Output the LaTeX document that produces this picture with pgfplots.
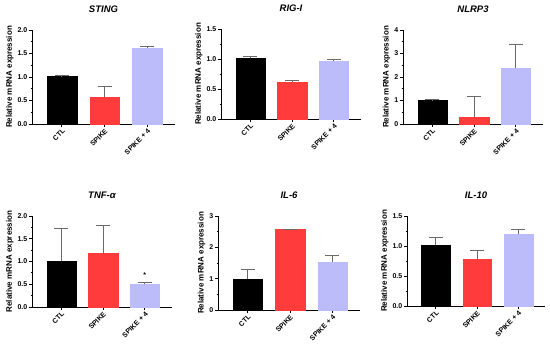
\documentclass[border=0pt]{standalone}
\usepackage{fontspec}
\setmainfont{Liberation Sans}
\usepackage{pgfplots}
\pgfplotsset{compat=1.18}

\definecolor{cred}{HTML}{FF3B3B}
\definecolor{cblue}{HTML}{BCBCFA}
\definecolor{errc}{HTML}{6A6A6A}

\pgfplotsset{
 panel/.style={
  scale only axis, anchor=south west,
  axis x line=bottom, axis y line=left,
  axis line style={-, line width=0.9pt},
  ymin=0, xmin=-0.7, xmax=2.65,
  xtick={0,1,2}, xticklabels={CTL,SPIKE,SPIKE + 4},
  x tick label style={rotate=45, anchor=north east, font=\fontsize{7}{7}\selectfont\bfseries, inner sep=0.8pt},
  y tick label style={font=\fontsize{7}{7}\selectfont\bfseries, inner sep=1.5pt},
  tick align=outside, major tick length=3pt, minor tick length=1.5pt,
  tick style={black, line width=0.8pt},
  minor y tick num=1,
  ylabel={Relative mRNA expression},
  ylabel style={font=\fontsize{8}{9}\selectfont\bfseries, yshift=-1pt},
  title style={font=\fontsize{9.5}{10}\selectfont\bfseries\itshape, at={(0.5,1)}, anchor=south, yshift=8pt},
  ybar, bar width=0.7, bar shift=0pt,
  /pgf/number format/assume math mode=true,
  clip=false,
 },
 dec/.style={yticklabel={\pgfmathprintnumber[fixed,fixed zerofill,precision=1]{\tick}}},
 eb/.style={error bars/.cd, y dir=plus, y explicit,
    error bar style={errc, line width=0.8pt, solid},
    error mark=|,
    error mark options={errc, line width=0.8pt, mark size=7pt}},
 bk/.style={fill=black, draw=black, line width=0.2pt, eb},
 rd/.style={fill=cred, draw=cred, line width=0.2pt, eb},
 bl/.style={fill=cblue, draw=cblue, line width=0.2pt, eb},
}

\begin{document}
\begin{tikzpicture}
\path[use as bounding box] (0,0) rectangle (550pt,349pt);

% STING
\begin{axis}[panel, dec, at={(32pt,225pt)}, width=143pt, height=94pt,
  ymax=2, ytick={0,0.5,1,1.5,2}, title={STING}]
\addplot[bk] coordinates {(0,1.02) +- (0,0.005)};
\addplot[rd] coordinates {(1,0.58) +- (0,0.21)};
\addplot[bl] coordinates {(2,1.61) +- (0,0.05)};
\end{axis}

% RIG-I
\begin{axis}[panel, dec, at={(221pt,230pt)}, width=140pt, height=90pt,
  ymax=1.5, ytick={0,0.5,1,1.5}, title={RIG-I}]
\addplot[bk] coordinates {(0,1.01) +- (0,0.04)};
\addplot[rd] coordinates {(1,0.62) +- (0,0.03)};
\addplot[bl] coordinates {(2,0.96) +- (0,0.03)};
\end{axis}

% NLRP3
\begin{axis}[panel, at={(403pt,225pt)}, width=140pt, height=94pt,
  ymax=4, ytick={0,1,2,3,4}, title={NLRP3}]
\addplot[bk] coordinates {(0,1.03) +- (0,0.005)};
\addplot[rd] coordinates {(1,0.31) +- (0,0.88)};
\addplot[bl] coordinates {(2,2.37) +- (0,1.03)};
\end{axis}

% TNF-alpha
\begin{axis}[panel, dec, at={(32pt,42pt)}, width=140pt, height=91pt,
  ymax=2, ytick={0,0.5,1,1.5,2}, title={TNF-α}]
\addplot[bk] coordinates {(0,1.01) +- (0,0.71)};
\addplot[rd] coordinates {(1,1.18) +- (0,0.61)};
\addplot[bl] coordinates {(2,0.50) +- (0,0.04)};
\node[font=\fontsize{7}{8}\selectfont\bfseries] at (axis cs:2,0.70) {*};
\end{axis}

% IL-6
\begin{axis}[panel, at={(218pt,39pt)}, width=142pt, height=94pt,
  ymax=3, ytick={0,1,2,3}, title={IL-6}]
\addplot[bk] coordinates {(0,1.00) +- (0,0.28)};
\addplot[rd] coordinates {(1,2.57) +- (0,0.01)};
\addplot[bl] coordinates {(2,1.54) +- (0,0.21)};
\end{axis}

% IL-10
\begin{axis}[panel, dec, at={(407pt,43pt)}, width=138pt, height=90pt,
  ymax=1.5, ytick={0,0.5,1,1.5}, title={IL-10}]
\addplot[bk] coordinates {(0,1.01) +- (0,0.14)};
\addplot[rd] coordinates {(1,0.79) +- (0,0.13)};
\addplot[bl] coordinates {(2,1.20) +- (0,0.07)};
\end{axis}
\end{tikzpicture}
\end{document}
